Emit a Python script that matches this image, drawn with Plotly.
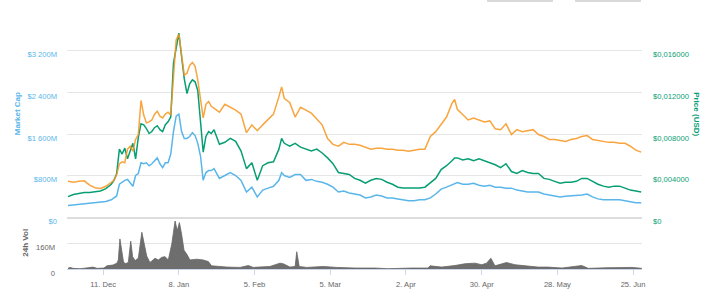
import pandas as pd
import plotly.graph_objects as go

BASE = pd.Timestamp("2017-11-28")

# day offsets from BASE for the three price/market-cap series
day_offsets = (list(range(0, 17, 2)) + list(range(17, 55)) + list(range(56, 79, 2)) + [79]
               + list(range(80, 143, 2)) + [143] + list(range(144, 213, 2)))

market_cap_musd = [
    230, 239, 249, 258, 267, 277, 290, 305, 337,
    374, 411, 636, 673, 711, 729, 673, 598, 804, 842, 1047, 1029, 1047, 991, 1029, 1085, 1141, 1029,
    954, 1047, 1047, 1216, 1646, 1945, 1982, 1646, 1515, 1515, 1552, 1627, 1571, 1421, 1178, 711,
    860, 898, 898, 935,
    748, 804, 860, 804, 711, 486, 580, 393, 524, 561, 598, 711,
    860,
    804, 767, 823, 823, 711, 729, 692, 673, 636, 580, 486, 505, 468, 449, 430, 374, 393, 430, 411,
    374, 374, 355, 337, 318, 318, 337, 337, 374, 449, 542, 580, 617,
    645,
    668, 636, 636, 655, 617, 598, 617, 580, 580, 561, 561, 524, 505, 486, 486, 486, 449, 430, 411,
    393, 406, 411, 411, 430, 449, 393, 355, 337, 337, 337, 337, 318, 299, 281, 281,
]

price_usd = [
    0.00199, 0.00220, 0.00229, 0.00239, 0.00239, 0.00243, 0.00253, 0.00276, 0.00318,
    0.00356, 0.00421, 0.00655, 0.00608, 0.00665, 0.00562, 0.00637, 0.00711, 0.00562, 0.00768,
    0.00899, 0.00889, 0.00852, 0.00805, 0.00824, 0.00861, 0.00880, 0.00842, 0.00824, 0.00889,
    0.00917, 0.00964, 0.01479, 0.01638, 0.01769, 0.01544, 0.01329, 0.01189, 0.01282, 0.01320,
    0.01301, 0.01217, 0.00955, 0.00627, 0.00777, 0.00824, 0.00805, 0.00842,
    0.00702, 0.00721, 0.00758, 0.00730, 0.00637, 0.00468, 0.00524, 0.00356, 0.00496, 0.00524,
    0.00534, 0.00655,
    0.00758,
    0.00711, 0.00683, 0.00711, 0.00674, 0.00655, 0.00637, 0.00655, 0.00618, 0.00571, 0.00515,
    0.00431, 0.00421, 0.00412, 0.00374, 0.00356, 0.00328, 0.00356, 0.00374, 0.00365, 0.00337,
    0.00318, 0.00290, 0.00281, 0.00281, 0.00281, 0.00281, 0.00290, 0.00328, 0.00374, 0.00459,
    0.00496, 0.00543,
    0.00571,
    0.00571, 0.00552, 0.00562, 0.00543, 0.00562, 0.00543, 0.00524, 0.00505, 0.00477, 0.00515,
    0.00440, 0.00421, 0.00449, 0.00431, 0.00421, 0.00421, 0.00374, 0.00365, 0.00346, 0.00328,
    0.00337, 0.00337, 0.00346, 0.00374, 0.00374, 0.00346, 0.00318, 0.00300, 0.00290, 0.00300,
    0.00300, 0.00281, 0.00262, 0.00253, 0.00243,
]

price_btc_sat = [
    34.6, 33.7, 34.6, 35.1, 30.9, 28.5, 27.8, 29.9, 33.7,
    35.5, 41.1, 51.4, 53.3, 52.4, 65.5, 68.3, 63.6, 74.8, 79.5, 112.2, 98.2, 90.7, 91.6, 93.5,
    99.1, 101.9, 97.2, 95.4, 99.1, 101.0, 98.2, 138.4, 170.2, 175.8, 155.2, 136.5, 138.4, 145.9,
    148.7, 144.9, 131.8, 113.1, 95.4, 108.5, 111.3, 106.6, 104.7,
    101.0, 108.5, 105.7, 102.9, 99.1, 81.3, 88.8, 83.2, 88.8, 93.5, 99.1, 115.9,
    125.3,
    114.1, 110.3, 96.3, 105.7, 102.9, 100.0, 94.4, 88.8, 75.7, 70.1, 68.3, 72.0, 70.1, 70.1, 69.2,
    67.3, 65.5, 66.4, 66.4, 65.5, 65.5, 64.5, 64.5, 63.6, 64.5, 65.5, 65.5, 77.6, 82.3, 88.8,
    96.3, 109.4,
    113.1,
    103.8, 99.1, 93.5, 95.4, 93.5, 91.6, 92.6, 85.1, 84.2, 89.8, 79.5, 84.2, 82.3, 83.2, 84.2,
    79.5, 77.6, 74.8, 74.8, 73.9, 72.9, 74.8, 75.7, 77.6, 78.5, 74.8, 73.9, 72.9, 72.0, 72.0,
    71.1, 71.1, 68.3, 64.5, 62.6,
]

vol_offsets = [
    0, 0.74, 1.85, 4.44, 6.66, 9.25, 10.7, 11.8, 13.3, 14.4,
    16.6, 18.1, 18.6, 19.2, 19.9, 20.5, 21.1, 22.3, 23.2, 23.9,
    24.8, 26.0, 27.3, 28.1, 29.1, 30.3, 31.5, 32.2, 33.4, 34.7,
    35.9, 37.1, 38.4, 39.6, 40.4, 41.2, 42.0, 42.9, 43.9, 45.1,
    47.6, 50.0, 51.9, 53.1, 56.2, 58.7, 63.6, 66.7, 68.5, 74.7,
    78.4, 79.6, 82.1, 84.0, 84.6, 85.5, 88.3, 94.4, 99.4, 104.3,
    106.1, 113.5, 118.3, 127.2, 133.1, 133.9, 138.2, 143.1, 146.8, 150.5,
    153.0, 154.8, 156.4, 157.9, 162.2, 165.3, 170.1, 173.8, 177.5, 182.7,
    190.0, 192.4, 199.7, 208.6, 212.2,
]
volume_musd = [
    4, 10, 4, 2, 6, 12, 4, 4, 6, 20,
    25, 37, 57, 190, 98, 47, 33, 41, 176, 78,
    53, 68, 232, 160, 82, 41, 61, 68, 57, 74,
    78, 57, 160, 303, 242, 293, 221, 119, 94, 57,
    62, 57, 47, 20, 16, 12, 10, 22, 10, 16,
    37, 33, 12, 16, 109, 16, 10, 16, 10, 6,
    6, 6, 2, 6, 6, 20, 12, 22, 33, 37,
    27, 37, 68, 20, 41, 27, 16, 12, 12, 6,
    22, 4, 8, 10, 4,
]

tick_dates = ["2017-12-11", "2018-01-08", "2018-02-05", "2018-03-05",
              "2018-04-02", "2018-04-30", "2018-05-28", "2018-06-25"]
tick_labels = ["11. Dec", "8. Jan", "5. Feb", "5. Mar", "2. Apr", "30. Apr", "28. May", "25. Jun"]

mcap_ticks = [0, 800, 1600, 2400, 3200, 4000]
mcap_labels = ["$0", "$800M", "$1 600M", "$2 400M", "$3 200M", ""]
price_ticks = [0, 0.004, 0.008, 0.012, 0.016]
price_labels = ["$0", "$0,004000", "$0,008000", "$0,012000", "$0,016000"]
vol_ticks = [0, 160, 320]
vol_labels = ["0", "160M", ""]

dates = BASE + pd.to_timedelta(day_offsets, unit="D")
vdates = BASE + pd.to_timedelta(vol_offsets, unit="D")

C_MCAP = "#5ab6ea"
C_USD = "#089e74"
C_BTC = "#f8961e"
C_VOL = "#666666"
FONT = "Liberation Sans, Arial, sans-serif"
FS = 7.6

fig = go.Figure()
fig.add_trace(go.Scatter(x=vdates, y=volume_musd, xaxis="x2", yaxis="y2", mode="lines",
                         line=dict(color=C_VOL, width=0.8), fill="tozeroy",
                         fillcolor="rgba(102,102,102,0.95)"))
fig.add_trace(go.Scatter(x=dates, y=market_cap_musd, xaxis="x", yaxis="y", mode="lines",
                         line=dict(color=C_MCAP, width=1.5)))
fig.add_trace(go.Scatter(x=dates, y=price_btc_sat, xaxis="x", yaxis="y4", mode="lines",
                         line=dict(color=C_BTC, width=1.5), opacity=0.85))
fig.add_trace(go.Scatter(x=dates, y=price_usd, xaxis="x", yaxis="y3", mode="lines",
                         line=dict(color=C_USD, width=1.5)))

xr = ["2017-11-27 15:00", "2018-06-28 07:00"]
L, R, T, B = 67, 66, 9, 22
H = 298 - T - B
main_bottom = (276 - 223) / H
vol_top = (276 - 224) / H

fig.update_layout(
    width=708, height=298,
    margin=dict(l=L, r=R, t=T, b=B),
    paper_bgcolor="white", plot_bgcolor="white",
    showlegend=False,
    font=dict(family=FONT, size=FS, color="#666666"),
    xaxis=dict(domain=[0, 1], anchor="y", range=xr, showticklabels=False, showgrid=False,
               showline=True, linecolor="#dddddd", linewidth=2, zeroline=False, ticks=""),
    xaxis2=dict(domain=[0, 1], anchor="y2", range=xr, tickvals=tick_dates, ticktext=tick_labels,
                ticks="outside", ticklen=5, tickcolor="#ccd6eb", showline=True, linecolor="#ccd6eb",
                showgrid=False, zeroline=False, tickfont=dict(size=FS, color="#666666"),
                ticklabelstandoff=3),
    yaxis=dict(domain=[main_bottom, 1], anchor="x", range=[0, 4000], tickvals=mcap_ticks,
               ticktext=mcap_labels, gridcolor="#e6e6e6", zeroline=False, ticks="",
               tickfont=dict(size=FS, color=C_MCAP), ticklabelstandoff=9, ticklabelshift=4),
    yaxis3=dict(overlaying="y", side="right", anchor="x", range=[0, 0.02], tickvals=price_ticks,
                ticktext=price_labels, showgrid=False, zeroline=False, ticks="",
                tickfont=dict(size=FS, color=C_USD), ticklabelstandoff=10, ticklabelshift=4),
    yaxis4=dict(overlaying="y", range=[0, 200], visible=False),
    yaxis2=dict(domain=[0, vol_top], anchor="x2", range=[0, 320], tickvals=vol_ticks,
                ticktext=vol_labels, gridcolor="#e6e6e6", zeroline=False, ticks="",
                tickfont=dict(size=FS, color="#666666"), ticklabelstandoff=11, ticklabelshift=4),
)

def px_x(px):
    return (px - L) / (708 - L - R)

def px_y(py):
    return (298 - B - py) / H

ann_font = dict(size=8, family=FONT)
fig.add_annotation(text="<b>Market Cap</b>", xref="paper", yref="paper", x=px_x(17), y=px_y(117),
                   xanchor="center", yanchor="middle", textangle=-90, showarrow=False,
                   font=dict(color=C_MCAP, **ann_font))
fig.add_annotation(text="<b>Price (USD)</b>", xref="paper", yref="paper", x=px_x(697), y=px_y(117),
                   xanchor="center", yanchor="middle", textangle=90, showarrow=False,
                   font=dict(color=C_USD, **ann_font))
fig.add_annotation(text="<b>24h Vol</b>", xref="paper", yref="paper", x=px_x(26), y=px_y(249),
                   xanchor="center", yanchor="middle", textangle=-90, showarrow=False,
                   font=dict(color="#666666", **ann_font))

for a, b in [(487, 553), (575, 641)]:
    fig.add_shape(type="rect", xref="paper", yref="paper", x0=px_x(a), x1=px_x(b),
                  y0=px_y(1.5), y1=px_y(0), fillcolor="#cccccc", line=dict(width=0), layer="above")

fig.write_html("out.html")
